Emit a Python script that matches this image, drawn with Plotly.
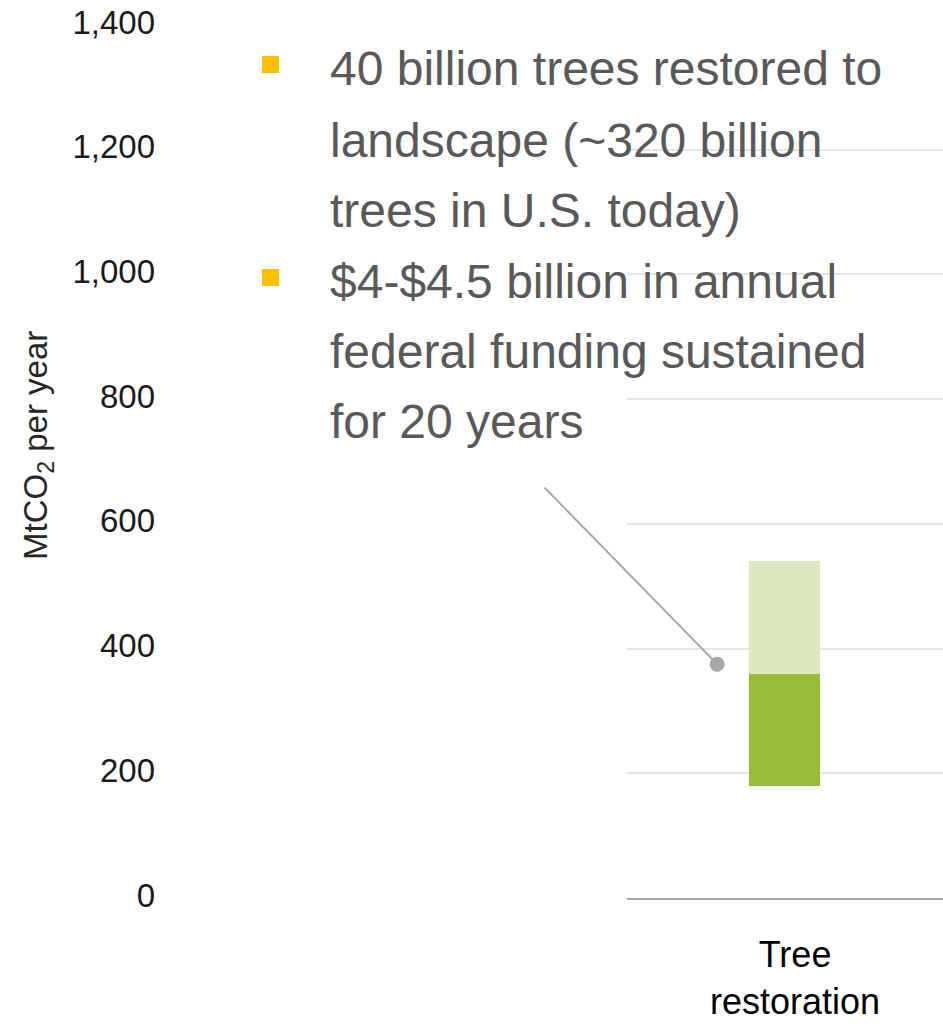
import plotly.graph_objects as go

# Data
categories = ["Tree<br>restoration"]
range_low = [180]
range_mid = [360]
range_high = [540]
pointer_value = [375]
y_ticks = [0, 200, 400, 600, 800, 1000, 1200, 1400]
bullet_lines = [
    ["40 billion trees restored to", "landscape (~320 billion", "trees in U.S. today)"],
    ["$4-$4.5 billion in annual", "federal funding sustained", "for 20 years"],
]
y_title = "MtCO<sub>2</sub> per year"

W, H = 943, 1026
ML, MR, MT, MB = 165, 0, 25, 128
PW, PH = W - ML - MR, H - MT - MB


def px_x(x):
    return (x - ML) / PW


def px_y(y):
    return (H - MB - y) / PH


FONT = "Liberation Sans, Arial, sans-serif"
x_idx = list(range(len(categories)))

fig = go.Figure()
fig.add_trace(go.Bar(
    x=x_idx, y=[m - l for m, l in zip(range_mid, range_low)], base=range_low,
    marker=dict(color="#99BC36", line=dict(width=0)), width=0.225,
))
fig.add_trace(go.Bar(
    x=x_idx, y=[h - m for h, m in zip(range_high, range_mid)], base=range_mid,
    marker=dict(color="#DDE8C1", line=dict(width=0)), width=0.225,
))
# callout pointer dot
fig.add_trace(go.Scatter(
    x=[-0.215], y=pointer_value, mode="markers",
    marker=dict(size=15, color="#A6A6A6"), cliponaxis=False,
))
fig.add_annotation(
    x=-0.215, y=pointer_value[0], xref="x", yref="y",
    ax=-174, ay=-178, axref="pixel", ayref="pixel",
    showarrow=True, arrowhead=0, arrowwidth=2, arrowcolor="#A6A6A6", text="",
)

# bullet text block
centers = [68, 141, 210, 281, 351, 421]
k = 0
bullet_tops = [56, 269]
for b, lines in enumerate(bullet_lines):
    fig.add_shape(type="rect", xref="paper", yref="paper",
                  x0=px_x(262), x1=px_x(279), y0=px_y(bullet_tops[b] + 17), y1=px_y(bullet_tops[b]),
                  fillcolor="#FFC000", line=dict(width=0))
    for line in lines:
        fig.add_annotation(
            x=px_x(328), y=px_y(centers[k]), xref="paper", yref="paper",
            xanchor="left", yanchor="middle", showarrow=False, text=line,
            font=dict(family=FONT, size=48, color="#595959"),
        )
        k += 1

# vertical axis title
fig.add_annotation(
    x=px_x(38), y=px_y(446), xref="paper", yref="paper", textangle=-90,
    xanchor="center", yanchor="middle", showarrow=False, text=y_title,
    font=dict(family=FONT, size=33, color="#262626"),
)

fig.update_layout(
    width=W, height=H, margin=dict(l=ML, r=MR, t=MT, b=MB),
    paper_bgcolor="white", plot_bgcolor="white",
    barmode="overlay", showlegend=False, bargap=0,
    xaxis=dict(
        domain=[0.594, 1], range=[-0.5, 0.5], tickvals=x_idx, ticktext=categories,
        showgrid=False, zeroline=False, showline=True, linecolor="#A6A6A6", linewidth=2,
        ticks="", tickfont=dict(family=FONT, size=36, color="#000000"),
        ticklabelstandoff=24, ticklabelshift=10, automargin=False,
    ),
    yaxis=dict(
        range=[0, 1400], tickvals=y_ticks, tickformat=",", anchor="free", position=0,
        showgrid=True, gridcolor="#E6E6E6", gridwidth=1.5, zeroline=False, showline=False,
        ticks="", tickfont=dict(family=FONT, size=33, color="#1A1A1A"),
        ticklabelstandoff=10, ticklabelshift=-3, automargin=False,
    ),
)

fig.write_html("out.html")
